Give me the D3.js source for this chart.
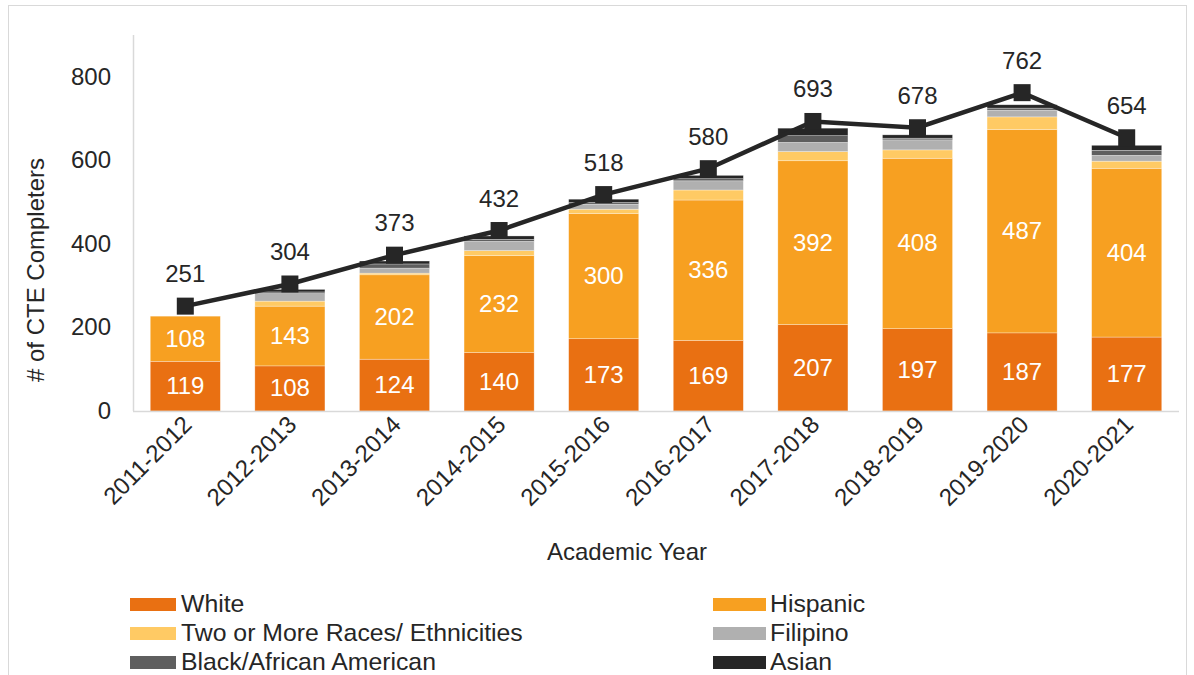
<!DOCTYPE html>
<html>
<head>
<meta charset="utf-8">
<script src="https://cdn.jsdelivr.net/npm/d3@7"></script>
<style>
  body { margin: 0; background: #fff; }
  text { font-family: "Liberation Sans", Arial, sans-serif; }
</style>
</head>
<body>
<div id="chart"></div>
<script>
// data
const years = ['2011-2012', '2012-2013', '2013-2014', '2014-2015', '2015-2016',
               '2016-2017', '2017-2018', '2018-2019', '2019-2020', '2020-2021'];
const white    = [119, 108, 124, 140, 173, 169, 207, 197, 187, 177];
const hispanic = [108, 143, 202, 232, 300, 336, 392, 408, 487, 404];
const twoMore  = [0, 12, 4, 12, 10, 24, 22, 20, 30, 17];
const filipino = [0, 18, 12, 22, 12, 22, 22, 24, 16, 14];
const black    = [0, 4, 10, 5, 4, 5, 16, 4, 5, 12];
const asian    = [0, 6, 7, 8, 8, 8, 18, 8, 8, 12];
const totals   = [251, 304, 373, 432, 518, 580, 693, 678, 762, 654];
const yTicks = [0, 200, 400, 600, 800];

const series = [
    { key: 'White', values: white, color: '#E97012', label: true },
    { key: 'Hispanic', values: hispanic, color: '#F7A021', label: true },
    { key: 'Two or More Races/ Ethnicities', values: twoMore, color: '#FFCA64' },
    { key: 'Filipino', values: filipino, color: '#B0B0B0' },
    { key: 'Black/African American', values: black, color: '#5F5F5F' },
    { key: 'Asian', values: asian, color: '#262626' }
];

const width = 1194, height = 675;
const margin = { left: 133, right: 15, top: 35, bottom: 264 };
const fs = '24px';

const svg = d3.select('#chart').append('svg')
    .attr('width', width)
    .attr('height', height);

// 外框
svg.append('rect')
    .attr('x', 8.5).attr('y', 5.5)
    .attr('width', 1178).attr('height', 680)
    .attr('fill', 'none')
    .attr('stroke', '#d9d9d9');

const x = d3.scaleBand()
    .domain(years)
    .range([margin.left, width - margin.right])
    .paddingInner(0.33)
    .paddingOuter(0.165);

const y = d3.scaleLinear()
    .domain([0, 900])
    .range([height - margin.bottom, margin.top]);

// 堆叠数据
const rows = years.map((yr, i) => {
    const r = { year: yr };
    series.forEach(s => r[s.key] = s.values[i]);
    return r;
});
const stack = d3.stack().keys(series.map(s => s.key));
const stacked = stack(rows);

const barG = svg.append('g');
stacked.forEach((layer, li) => {
    const s = series[li];
    const g = barG.append('g');
    g.selectAll('rect')
        .data(layer)
        .enter().append('rect')
        .attr('x', d => x(d.data.year))
        .attr('y', d => y(d[1]))
        .attr('width', x.bandwidth())
        .attr('height', d => Math.max(0, y(d[0]) - y(d[1])))
        .attr('fill', s.color)
        .attr('stroke', '#fff')
        .attr('stroke-width', 0.6)
        .attr('stroke-opacity', d => d[1] > d[0] ? 0.5 : 0);
    if (s.label) {
        g.selectAll('text')
            .data(layer)
            .enter().append('text')
            .attr('x', d => x(d.data.year) + x.bandwidth() / 2)
            .attr('y', d => (y(d[0]) + y(d[1])) / 2 + 8)
            .attr('text-anchor', 'middle')
            .attr('fill', '#fff')
            .style('font-size', fs)
            .text(d => d[1] - d[0]);
    }
});

// 坐标轴
svg.append('line')
    .attr('x1', margin.left).attr('x2', width - margin.right)
    .attr('y1', y(0) + 0.5).attr('y2', y(0) + 0.5)
    .attr('stroke', '#d9d9d9').attr('stroke-width', 1.5);
svg.append('line')
    .attr('x1', margin.left + 0.5).attr('x2', margin.left + 0.5)
    .attr('y1', y(900)).attr('y2', y(0))
    .attr('stroke', '#d9d9d9').attr('stroke-width', 1.5);

svg.append('g').selectAll('text')
    .data(yTicks)
    .enter().append('text')
    .attr('x', 111)
    .attr('y', d => y(d) + 8)
    .attr('text-anchor', 'end')
    .attr('fill', '#262626')
    .style('font-size', fs)
    .text(d => d);

svg.append('g').selectAll('text')
    .data(years)
    .enter().append('text')
    .attr('transform', d => `translate(${x(d) + x.bandwidth() / 2 + 8},${y(0) + 15}) rotate(-45)`)
    .attr('text-anchor', 'end')
    .attr('fill', '#262626')
    .style('font-size', fs)
    .text(d => d);

svg.append('text')
    .attr('transform', `translate(44,${(y(0) + y(900)) / 2 + 47}) rotate(-90)`)
    .attr('text-anchor', 'middle')
    .attr('fill', '#262626')
    .style('font-size', fs)
    .text('# of CTE Completers');

svg.append('text')
    .attr('x', 627).attr('y', 560)
    .attr('text-anchor', 'middle')
    .attr('fill', '#262626')
    .style('font-size', fs)
    .text('Academic Year');

// 总数折线
const cx = d => x(d) + x.bandwidth() / 2;
const line = d3.line()
    .x((d, i) => cx(years[i]))
    .y(d => y(d));

svg.append('path')
    .datum(totals)
    .attr('d', line)
    .attr('fill', 'none')
    .attr('stroke', '#262626')
    .attr('stroke-width', 4.5);

svg.append('g').selectAll('rect')
    .data(totals)
    .enter().append('rect')
    .attr('x', (d, i) => cx(years[i]) - 8.5)
    .attr('y', d => y(d) - 8.5)
    .attr('width', 17).attr('height', 17)
    .attr('fill', '#262626');

svg.append('g').selectAll('text')
    .data(totals)
    .enter().append('text')
    .attr('x', (d, i) => cx(years[i]))
    .attr('y', d => y(d) - 24)
    .attr('text-anchor', 'middle')
    .attr('fill', '#262626')
    .style('font-size', fs)
    .text(d => d);

// 图例
const legendPos = [
    [130, 604], [713, 604],
    [130, 633], [713, 633],
    [130, 662], [713, 662]
];
const legend = svg.append('g').selectAll('g')
    .data(series)
    .enter().append('g')
    .attr('transform', (d, i) => `translate(${legendPos[i][0]},${legendPos[i][1]})`);
legend.append('rect')
    .attr('x', 0).attr('y', -6)
    .attr('width', (d, i) => i % 2 === 0 ? 46 : 53)
    .attr('height', 13)
    .attr('fill', d => d.color);
legend.append('text')
    .attr('x', (d, i) => i % 2 === 0 ? 51 : 57)
    .attr('y', 8)
    .attr('fill', '#262626')
    .style('font-size', '24.8px')
    .text(d => d.key);
</script>
</body>
</html>
